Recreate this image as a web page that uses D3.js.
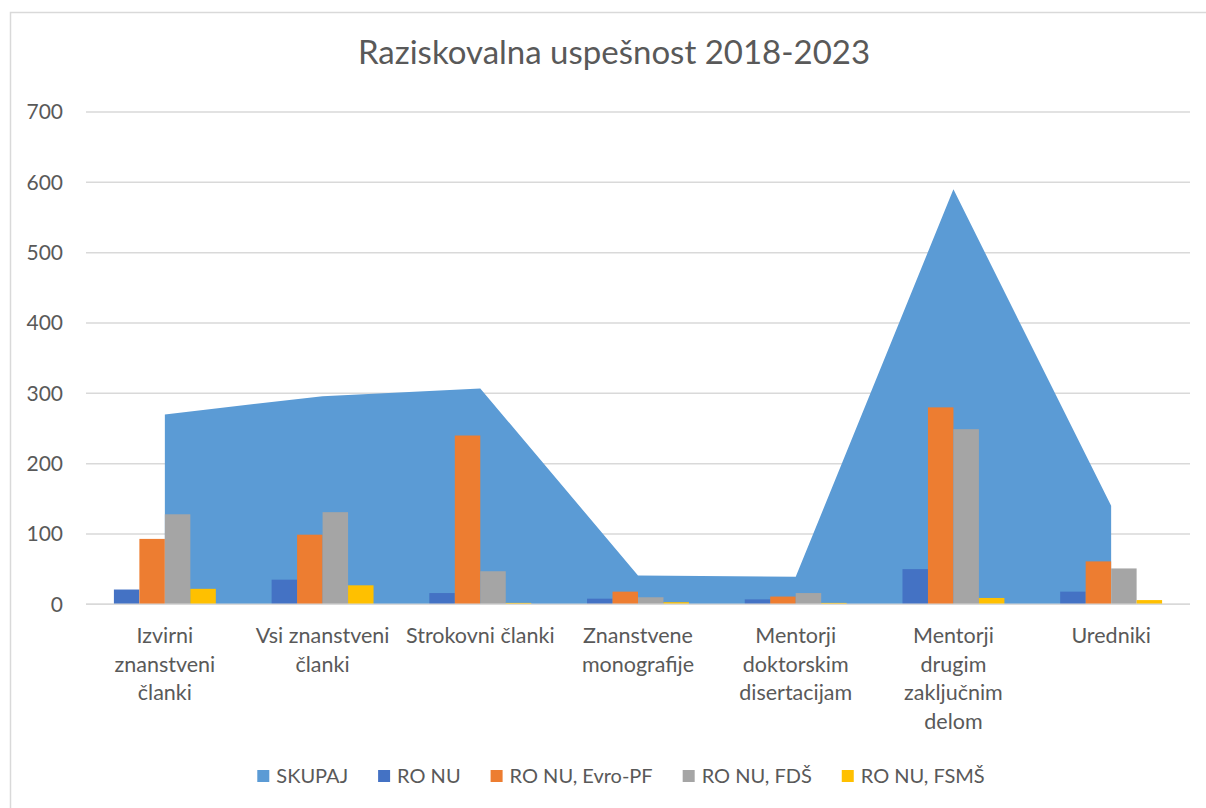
<!DOCTYPE html>
<html lang="sl">
<head>
<meta charset="UTF-8" />
<title>Raziskovalna uspešnost 2018-2023</title>
<style>
  html, body { margin: 0; padding: 0; background: #fff; }
  text { font-family: Lato, "Open Sans", sans-serif; fill: #595959; }
</style>
</head>
<body>
<svg width="1206" height="808" id="mainsvg"></svg>
<script src="https://cdn.jsdelivr.net/npm/d3@7"></script>
<script>
const categories = [
  "Izvirni znanstveni članki",
  "Vsi znanstveni članki",
  "Strokovni članki",
  "Znanstvene monografije",
  "Mentorji doktorskim disertacijam",
  "Mentorji drugim zaključnim delom",
  "Uredniki"
]
// how excel wraps the category labels
const categoryLines = [
  ["Izvirni", "znanstveni", "članki"],
  ["Vsi znanstveni", "članki"],
  ["Strokovni članki"],
  ["Znanstvene", "monografije"],
  ["Mentorji", "doktorskim", "disertacijam"],
  ["Mentorji", "drugim", "zaključnim", "delom"],
  ["Uredniki"]
]
const skupaj = [270, 296, 307, 41, 39, 590, 140]
const roNu = [21, 35, 16, 8, 7, 50, 18]
const roNuEvroPF = [93, 99, 240, 18, 11, 280, 61]
const roNuFDS = [128, 131, 47, 10, 16, 249, 51]
const roNuFSMS = [22, 27, 2, 3, 2, 9, 6]
const yTicks = [0, 100, 200, 300, 400, 500, 600, 700]

const barSeries = [
  { name: "RO NU", values: roNu, color: "#4472C4" },
  { name: "RO NU, Evro-PF", values: roNuEvroPF, color: "#ED7D31" },
  { name: "RO NU, FDŠ", values: roNuFDS, color: "#A5A5A5" },
  { name: "RO NU, FSMŠ", values: roNuFSMS, color: "#FFC000" }
]
const areaColor = "#5B9BD5"

const svg = d3.select("#mainsvg")

// chart frame (cut off on the right / bottom like the screenshot)
svg.append("rect")
  .attr("x", 10.5).attr("y", 12.5)
  .attr("width", 1300).attr("height", 900)
  .attr("fill", "none").attr("stroke", "#D9D9D9").attr("stroke-width", 1.5)

svg.append("text")
  .attr("x", 614).attr("y", 64)
  .attr("text-anchor", "middle")
  .attr("font-size", 33)
  .text("Raziskovalna uspešnost 2018-2023")

const x = d3.scaleBand().domain(categories).range([86, 1190]).padding(0)
const y = d3.scaleLinear().domain([0, 700]).range([604.3, 112])

// gap width 219% like excel
const barW = x.bandwidth() / (barSeries.length + 2.19)
const inner = d3.scaleBand()
  .domain(barSeries.map((s) => s.name))
  .range([-barW * barSeries.length / 2, barW * barSeries.length / 2])

// gridlines
svg.append("g")
  .selectAll("line")
  .data(yTicks)
  .join("line")
  .attr("x1", 86).attr("x2", 1190)
  .attr("y1", (d) => y(d)).attr("y2", (d) => y(d))
  .attr("stroke", "#D9D9D9")
  .attr("stroke-width", 1.5)

// y labels
svg.append("g")
  .selectAll("text")
  .data(yTicks)
  .join("text")
  .attr("x", 63)
  .attr("y", (d) => y(d))
  .attr("dy", "0.35em")
  .attr("text-anchor", "end")
  .attr("font-size", 21)
  .text((d) => d)

// SKUPAJ area
const area = d3.area()
  .x((d, i) => x(categories[i]) + x.bandwidth() / 2)
  .y0(y(0))
  .y1((d) => y(d))
svg.append("path")
  .datum(skupaj)
  .attr("d", area)
  .attr("fill", areaColor)

// bars
svg.append("g")
  .selectAll("g")
  .data(barSeries)
  .join("g")
  .attr("fill", (s) => s.color)
  .selectAll("rect")
  .data((s) => s.values.map((v, i) => ({ s: s.name, c: categories[i], v })))
  .join("rect")
  .attr("x", (d) => x(d.c) + x.bandwidth() / 2 + inner(d.s))
  .attr("width", inner.bandwidth())
  .attr("y", (d) => y(d.v))
  .attr("height", (d) => y(0) - y(d.v))

// baseline axis
svg.append("line")
  .attr("x1", 86).attr("x2", 1190)
  .attr("y1", y(0)).attr("y2", y(0))
  .attr("stroke", "#D9D9D9").attr("stroke-width", 1.5)

// category labels
const catLabels = svg.append("g")
  .selectAll("text")
  .data(categories)
  .join("text")
  .attr("text-anchor", "middle")
  .attr("font-size", 21.5)
  .attr("x", (d) => x(d) + x.bandwidth() / 2)
  .attr("y", 643)
catLabels.selectAll("tspan")
  .data((d, i) => categoryLines[i])
  .join("tspan")
  .attr("x", function () { return this.parentNode.getAttribute("x") })
  .attr("dy", (d, i) => (i === 0 ? 0 : 28.5))
  .text((d) => d)

// legend
const legendItems = [{ name: "SKUPAJ", color: areaColor }].concat(barSeries)
const legend = svg.append("g")
const items = legend.selectAll("g")
  .data(legendItems)
  .join("g")
items.append("rect")
  .attr("width", 12).attr("height", 12)
  .attr("y", -6)
  .attr("fill", (d) => d.color)
items.append("text")
  .attr("x", 19)
  .attr("dy", "0.35em")
  .attr("font-size", 20)
  .text((d) => d.name)
let cx = 0
items.each(function () {
  const w = this.getBBox().width
  d3.select(this).attr("transform", `translate(${cx},776)`)
  cx += w + 30
})
const total = cx - 30
legend.attr("transform", `translate(${621 - total / 2},0)`)
</script>
</body>
</html>
